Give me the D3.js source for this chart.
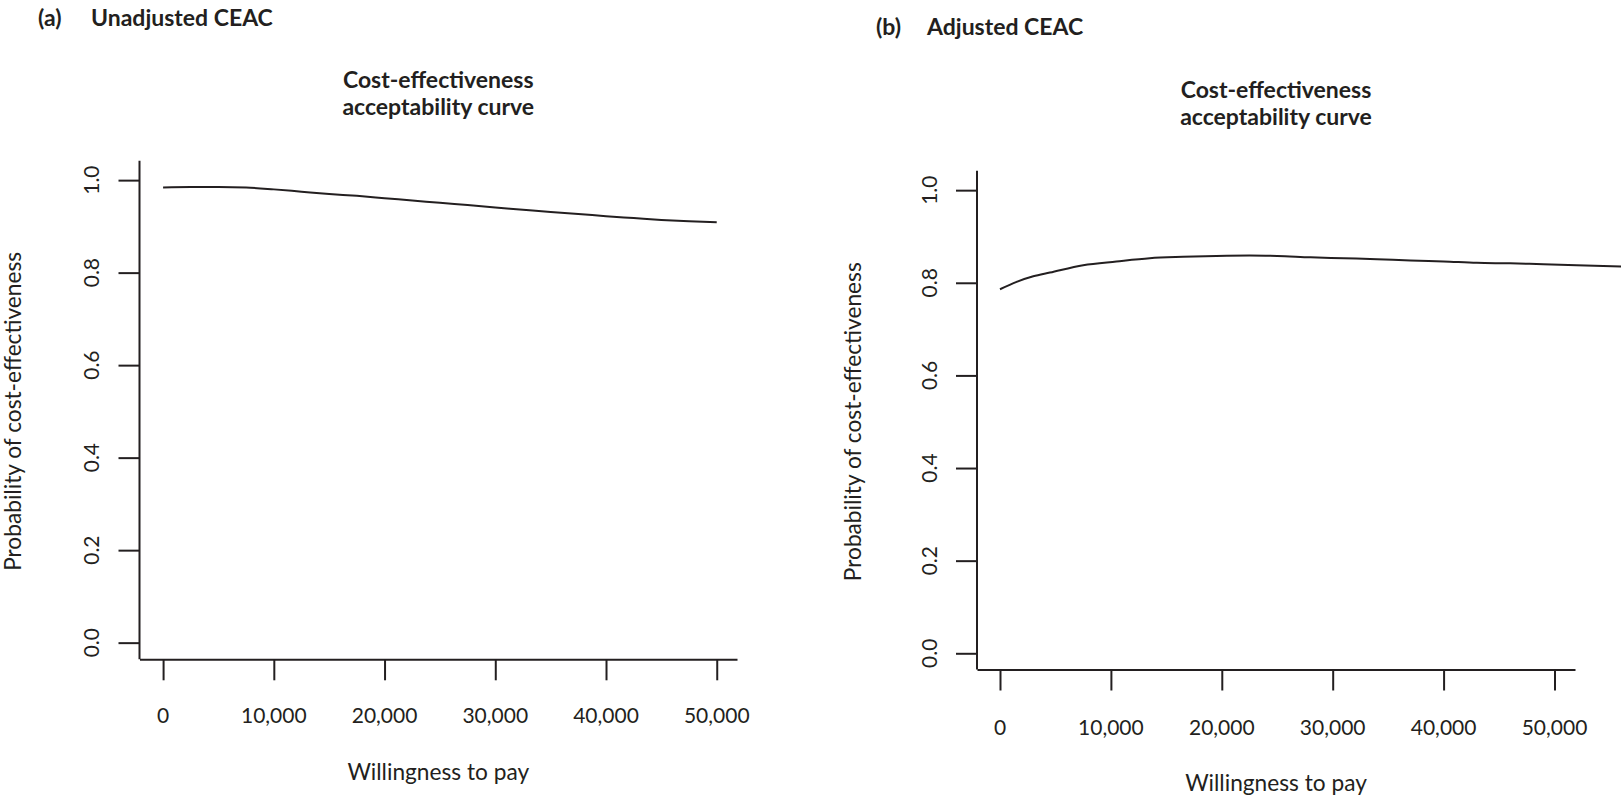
<!DOCTYPE html>
<html>
<head>
<meta charset="utf-8">
<script src="https://cdn.jsdelivr.net/npm/d3@7"></script>
<style>
  html, body { margin: 0; padding: 0; background: #fff; }
  svg { display: block; }
  text { font-family: Lato, "Open Sans", sans-serif; fill: #231f20; }
</style>
</head>
<body>
<svg id="chart" width="1623" height="800"></svg>
<script>
// ---- Data ----
const yTicks = [0, 0.2, 0.4, 0.6, 0.8, 1.0];
const xTicks = [0, 10000, 20000, 30000, 40000, 50000];

// Panel (a): Unadjusted CEAC
const wtpA = [0, 2500, 5000, 7500, 10000, 12500, 15000, 17500, 20000, 22500, 25000,
              27500, 30000, 32500, 35000, 37500, 40000, 42500, 45000, 47500, 50000];
const probA = [0.984, 0.985, 0.985, 0.984, 0.980, 0.975, 0.970, 0.966, 0.961, 0.956, 0.951,
               0.946, 0.941, 0.936, 0.931, 0.927, 0.922, 0.918, 0.914, 0.911, 0.909];

// Panel (b): Adjusted CEAC
const wtpB = [0, 1500, 3000, 4500, 7500, 10500, 13500, 16500, 19500, 22500, 25000,
              28000, 31000, 34000, 37000, 40000, 43000, 46000, 49000, 52000, 56000];
const probB = [0.786, 0.802, 0.814, 0.822, 0.838, 0.846, 0.853, 0.856, 0.858, 0.859, 0.858,
               0.855, 0.853, 0.851, 0.848, 0.846, 0.843, 0.842, 0.840, 0.838, 0.835];

const panels = [
  { tag: "(a)", name: "Unadjusted CEAC", wtp: wtpA, prob: probA,
    tagX: 38, nameX: 91, headY: 26,
    xDom: [-2130, 51830], xRange: [139.5, 737],
    yDom: [-0.036, 1.042], yRange: [659.3, 160.7],
    titleY: 88, tickLabY: 723, xTitleY: 780, yLabX: 99, yTitleX: 21 },
  { tag: "(b)", name: "Adjusted CEAC", wtp: wtpB, prob: probB,
    tagX: 876, nameX: 927, headY: 35,
    xDom: [-2074, 51850], xRange: [977, 1575],
    yDom: [-0.035, 1.042], yRange: [669.5, 170.7],
    titleY: 98, tickLabY: 735, xTitleY: 791, yLabX: 937, yTitleX: 861 }
];

const svg = d3.select("#chart");
const ink = "#231f20";
const fmt = d3.format(",");

panels.forEach(p => {
  const x = d3.scaleLinear().domain(p.xDom).range(p.xRange);
  const y = d3.scaleLinear().domain(p.yDom).range(p.yRange);
  const g = svg.append("g");

  // panel heading
  g.append("text").attr("x", p.tagX).attr("y", p.headY)
    .attr("font-size", 23).attr("font-weight", 700).text(p.tag);
  g.append("text").attr("x", p.nameX).attr("y", p.headY)
    .attr("font-size", 23).attr("font-weight", 700).text(p.name);

  const cx = (p.xRange[0] + p.xRange[1]) / 2;
  const title = g.append("text").attr("text-anchor", "middle")
    .attr("font-size", 23).attr("font-weight", 700);
  title.append("tspan").attr("x", cx).attr("y", p.titleY).text("Cost-effectiveness");
  title.append("tspan").attr("x", cx).attr("y", p.titleY + 27).text("acceptability curve");

  // x axis
  const xAxis = d3.axisBottom(x).tickValues(xTicks).tickSize(21).tickSizeOuter(0).tickFormat(() => "");
  const gx = g.append("g").attr("transform", `translate(0,${p.yRange[0]})`).call(xAxis);
  gx.selectAll("path, line").attr("stroke", ink).attr("stroke-width", 2);
  g.selectAll(".xlab").data(xTicks).join("text")
    .attr("x", d => x(d)).attr("y", p.tickLabY)
    .attr("text-anchor", "middle").attr("font-size", 21).text(d => fmt(d));
  g.append("text").attr("x", cx).attr("y", p.xTitleY)
    .attr("text-anchor", "middle").attr("font-size", 22.7).text("Willingness to pay");

  // y axis
  const yAxis = d3.axisLeft(y).tickValues(yTicks).tickSize(21).tickSizeOuter(0).tickFormat(() => "");
  const gy = g.append("g").attr("transform", `translate(${p.xRange[0]},0)`).call(yAxis);
  gy.selectAll("path, line").attr("stroke", ink).attr("stroke-width", 2);
  gy.select(".domain").attr("d", `M0,${p.yRange[0]}V${p.yRange[1]}`);
  g.selectAll(".ylab").data(yTicks).join("text")
    .attr("transform", d => `translate(${p.yLabX},${y(d)}) rotate(-90)`)
    .attr("text-anchor", "middle").attr("font-size", 21).text(d => d.toFixed(1));
  const cy = (y(0) + y(1)) / 2;
  g.append("text")
    .attr("transform", `translate(${p.yTitleX},${cy}) rotate(-90)`)
    .attr("text-anchor", "middle").attr("font-size", 22.7).text("Probability of cost-effectiveness");

  // curve
  const pts = p.wtp.map((w, i) => [w, p.prob[i]]);
  g.append("path").datum(pts)
    .attr("fill", "none").attr("stroke", ink).attr("stroke-width", 2)
    .attr("stroke-linejoin", "round")
    .attr("d", d3.line().x(d => x(d[0])).y(d => y(d[1])).curve(d3.curveMonotoneX));
});
</script>
</body>
</html>
